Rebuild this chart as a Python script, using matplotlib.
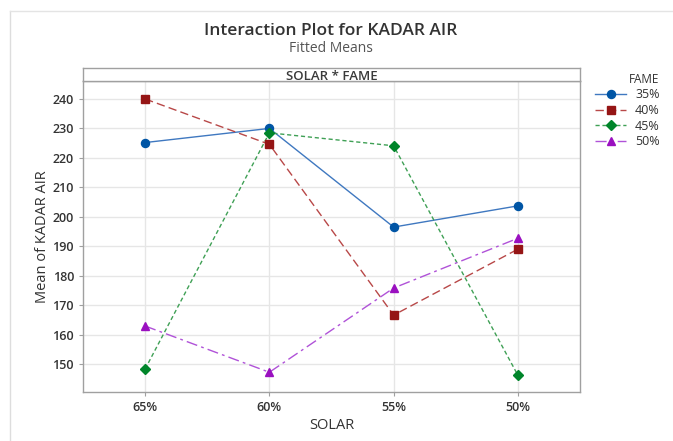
import matplotlib
matplotlib.use("Agg")
import matplotlib.pyplot as plt
from matplotlib.lines import Line2D

plt.rcParams['font.family'] = ['Open Sans', 'DejaVu Sans']

solar = ["65%", "60%", "55%", "50%"]
fame = ["35%", "40%", "45%", "50%"]
v35 = [225.2, 230.0, 196.5, 203.7]
v40 = [240.0, 224.6, 166.6, 189.0]
v45 = [148.3, 228.5, 224.1, 146.2]
v50 = [162.9, 147.2, 175.8, 192.7]
yticks = [150, 160, 170, 180, 190, 200, 210, 220, 230, 240]

series = [v35, v40, v45, v50]
mcolors = ["#0055A5", "#951515", "#00852A", "#9A10C0"]
lcolors = ["#3F78C0", "#B84848", "#3FA055", "#B052D8"]
markers = ["o", "s", "D", "^"]
msizes = [5.8, 5.6, 4.6, 6.4]
lstyles = ["-", (0, (6, 3)), (0, (3, 2)), (0, (8, 3, 2, 3))]

fig = plt.figure(figsize=(6.73, 4.41), dpi=100)
W, H = 673, 441
L, R, B, T = 83, 580, 392, 81
ax = fig.add_axes([L / W, 1 - B / H, (R - L) / W, (B - T) / H])

x = list(range(len(solar)))
for vals, mc, lc, mk, ms, ls in zip(series, mcolors, lcolors, markers, msizes, lstyles):
    ax.plot(x, vals, color=lc, linestyle=ls, linewidth=1.0, zorder=3)
    ax.plot(x, vals, linestyle="none", marker=mk, markersize=ms, color=mc,
            markeredgecolor=mc, zorder=4)

ax.set_xlim(-0.5, 3.5)
ax.set_ylim(140.5, 246.1)
ax.set_xticks(x)
ax.set_xticklabels(solar, fontsize=9, fontweight="semibold")
ax.set_yticks(yticks)
ax.set_yticklabels([str(t) for t in yticks], fontsize=9, fontweight="semibold")
ax.grid(True, color="#e6e6e6", linewidth=1.0, zorder=0)
ax.set_axisbelow(True)
for s in ax.spines.values():
    s.set_color("#a0a0a0")
    s.set_linewidth(1.0)
ax.tick_params(axis="both", colors="#a0a0a0", length=3, width=0.8, labelcolor="#333333")
ax.set_xlabel("SOLAR", fontsize=10.5, color="#333333", labelpad=3)
ax.set_ylabel("Mean of KADAR AIR", fontsize=10.5, color="#333333", labelpad=2)

# strip header
sax = fig.add_axes([L / W, 1 - T / H, (R - L) / W, 13 / H])
sax.set_xticks([])
sax.set_yticks([])
for s in sax.spines.values():
    s.set_color("#a0a0a0")
    s.set_linewidth(1.0)
sax.text(0.5, 0.35, "SOLAR * FAME", ha="center", va="center", fontsize=9.5,
         fontweight="semibold", color="#3a3a3a", transform=sax.transAxes)

# titles
fig.text(331 / W, 1 - 31 / H, "Interaction Plot for KADAR AIR", ha="center", va="center",
         fontsize=12.5, fontweight="semibold", color="#333333")
fig.text(331 / W, 1 - 48 / H, "Fitted Means", ha="center", va="center",
         fontsize=10, color="#555555")

# frame border lines
fig.add_artist(Line2D([10 / W, 10 / W], [0, 1 - 11 / H], color="#dddddd", linewidth=1.0))
fig.add_artist(Line2D([10 / W, 1], [1 - 11 / H, 1 - 11 / H], color="#e4e4e4", linewidth=1.0))

# legend
handles = []
for mc, lc, mk, ms, ls in zip(mcolors, lcolors, markers, msizes, lstyles):
    handles.append(Line2D([0], [0], color=lc, linestyle=ls, linewidth=1.0, marker=mk,
                          markersize=ms, markerfacecolor=mc, markeredgecolor=mc))
leg = fig.legend(handles, fame, title="FAME", loc="upper left",
                 bbox_to_anchor=(595 / W, 1 - 73 / H), frameon=False, fontsize=9,
                 title_fontsize=8.5, handlelength=2.5, labelspacing=0.2,
                 handletextpad=0.7, borderaxespad=0, borderpad=0)
leg._legend_box.align = "right"
for t in leg.get_texts():
    t.set_color("#333333")
leg.get_title().set_color("#333333")
leg.get_title().set_fontweight("medium")

fig.savefig("out.png", dpi=100)
